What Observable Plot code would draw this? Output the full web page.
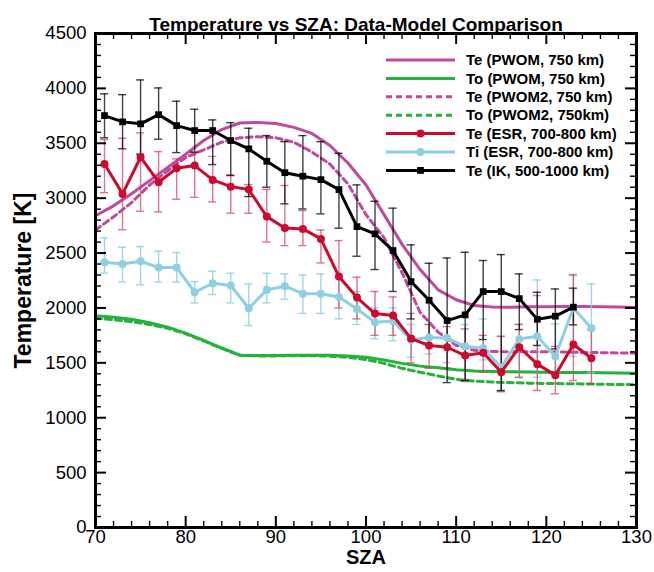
<!DOCTYPE html>
<html><head><meta charset="utf-8">
<script src="https://cdn.jsdelivr.net/npm/d3@7"></script>
<script src="https://cdn.jsdelivr.net/npm/@observablehq/plot@0.6"></script>
<style>body{margin:0;background:#fff}</style>
</head><body><div id="chart"></div>
<script>
// ---- data ----
const szaModel = [70,72,74,76,78,80,82,84,86,88,90,92,94,96,98,100,102,104,106,108,110,112,114,116,118,120,122,124,126,128,130];
const tePWOM  = [2840,2930,3040,3160,3280,3400,3525,3625,3685,3690,3680,3645,3590,3480,3320,3120,2850,2580,2350,2165,2075,2022,2008,2006,2010,2012,2014,2014,2012,2008,2004];
const toPWOM  = [1930,1915,1897,1865,1825,1770,1705,1635,1570,1566,1566,1568,1570,1568,1562,1550,1525,1495,1470,1455,1438,1425,1420,1418,1416,1415,1413,1412,1410,1408,1405];
const tePWOM2 = [2710,2830,2960,3120,3250,3370,3440,3510,3550,3560,3550,3510,3420,3310,3130,2850,2640,2320,1960,1780,1660,1615,1603,1600,1600,1600,1598,1595,1593,1590,1588];
const toPWOM2 = [1905,1893,1875,1850,1815,1765,1700,1632,1568,1563,1563,1565,1565,1560,1550,1530,1495,1450,1415,1380,1350,1333,1325,1320,1315,1312,1310,1308,1305,1303,1300];

const szaESR  = [71,73,75,77,79,81,83,85,87,89,91,93,95,97,99,101,103,105,107,109,111,113,115,117,119,121,123,125];
const teESR   = [3312,3039,3373,3145,3273,3297,3166,3105,3078,2832,2729,2720,2629,2286,2095,1949,1931,1721,1658,1642,1566,1591,1415,1642,1488,1388,1667,1542];
const teESRhi = [3534,3546,3595,3424,3358,3415,3380,3212,3124,3080,3115,2887,2710,2614,2280,2150,2100,1950,1850,1830,1809,1750,1742,1850,2113,1650,2304,1800];
const teESRlo = [3050,2712,2881,2875,2990,3008,2966,2863,2862,2600,2568,2568,2410,2000,1900,1750,1750,1500,1450,1454,1330,1415,1241,1369,1248,1218,1339,1309];
const tiESR   = [2416,2401,2425,2368,2368,2143,2225,2204,1997,2165,2198,2130,2130,2100,1990,1870,1880,1710,1730,1727,1648,1633,1460,1718,1742,1557,2000,1815];
const tiESRhi = [2638,2554,2559,2517,2504,2240,2335,2316,2219,2316,2310,2300,2310,2280,2150,2000,2000,1850,1850,1900,1849,1900,1740,1850,2255,1855,2295,2219];
const tiESRlo = [2317,2235,2211,2235,2235,2046,2122,2046,1840,2046,2080,1950,1950,1900,1850,1720,1700,1550,1580,1500,1354,1527,1233,1363,1369,1400,1557,1409];

const szaIK   = [71,73,75,77,79,81,83,85,87,89,91,93,95,97,99,101,103,105,107,109,111,113,115,117,119,121,123];
const teIK    = [3752,3695,3677,3761,3661,3616,3616,3525,3449,3336,3232,3200,3169,3078,2741,2675,2523,2240,2070,1885,1937,2149,2149,2085,1897,1925,2007];
const teIKhi  = [3950,3943,4077,4004,3883,3810,3713,3688,3637,3570,3515,3570,3515,3409,3121,2972,2909,2575,2407,2455,2507,2432,2486,2310,2143,2173,2180];
const teIKlo  = [3550,3450,3400,3537,3415,3420,3306,3206,3015,3100,2948,2902,2857,2726,2471,2350,2150,1900,1730,1320,1339,1712,1248,1803,1658,1627,1846];

const xDomain = [70,130];
const yDomain = [0,4500];
const xMajor = [70,80,90,100,110,120,130];
const yMajor = [0,500,1000,1500,2000,2500,3000,3500,4000,4500];
const xMinor = [72,74,76,78,82,84,86,88,92,94,96,98,102,104,106,108,112,114,116,118,122,124,126,128];
const yMinor = d3.range(0,4501,100).filter(v => v % 500 !== 0);

const legendItems = [
  {label:"Te (PWOM, 750 km)", color:"#c2489c", dash:null, marker:null},
  {label:"To (PWOM, 750 km)", color:"#22b33a", dash:null, marker:null},
  {label:"Te (PWOM2, 750 km)", color:"#c2489c", dash:"6,4", marker:null},
  {label:"To (PWOM2, 750km)", color:"#22b33a", dash:"6,4", marker:null},
  {label:"Te (ESR, 700-800 km)", color:"#cc0a2e", dash:null, marker:"circle"},
  {label:"Ti (ESR, 700-800 km)", color:"#8ecfe2", dash:null, marker:"circle"},
  {label:"Te (IK, 500-1000 km)", color:"#000000", dash:null, marker:"square"}
];

// ---- build tables ----
const model = szaModel.map((s,i) => ({sza:s, tePWOM:tePWOM[i], toPWOM:toPWOM[i], tePWOM2:tePWOM2[i], toPWOM2:toPWOM2[i]}));
const esr = szaESR.map((s,i) => ({sza:s, te:teESR[i], teHi:teESRhi[i], teLo:teESRlo[i], ti:tiESR[i], tiHi:tiESRhi[i], tiLo:tiESRlo[i]}));
const ik = szaIK.map((s,i) => ({sza:s, te:teIK[i], hi:teIKhi[i], lo:teIKlo[i]}));
const xTickRows = [...xMajor.map(v => ({v, len: 11, w: 2})), ...xMinor.map(v => ({v, len: 6, w: 1.4}))];
const yTickRows = [...yMajor.map(v => ({v, len: 11, w: 2})), ...yMinor.map(v => ({v, len: 6, w: 1.4}))];

const W = 654, Hh = 572, mt = 33, mb = 45, ml = 95, mr = 18;
const fw = W - ml - mr, fh = Hh - mt - mb;
const cap = 0.45;
const C = legendItems.map(d => d.color);

function errBars(data, x, lo, hi, color, op) {
  return [
    Plot.ruleX(data, {x, y1: lo, y2: hi, stroke: color, strokeOpacity: op, strokeWidth: 1.4}),
    Plot.ruleY(data, {y: hi, x1: d => d[x]-cap, x2: d => d[x]+cap, stroke: color, strokeOpacity: op, strokeWidth: 1.4}),
    Plot.ruleY(data, {y: lo, x1: d => d[x]-cap, x2: d => d[x]+cap, stroke: color, strokeOpacity: op, strokeWidth: 1.4})
  ];
}
// inward tick marks on all four sides (pixel lengths converted to data units)
const kx = (xDomain[1]-xDomain[0]) / fw, ky = (yDomain[1]-yDomain[0]) / fh;
function tickMarks() {
  return [
    Plot.ruleX(xTickRows, {x: "v", y1: () => yDomain[0], y2: d => yDomain[0] + d.len*ky, strokeWidth: "w", stroke: "black"}),
    Plot.ruleX(xTickRows, {x: "v", y1: d => yDomain[1] - d.len*ky, y2: () => yDomain[1], strokeWidth: "w", stroke: "black"}),
    Plot.ruleY(yTickRows, {y: "v", x1: () => xDomain[0], x2: d => xDomain[0] + d.len*kx, strokeWidth: "w", stroke: "black"}),
    Plot.ruleY(yTickRows, {y: "v", x1: d => xDomain[1] - d.len*kx, x2: () => xDomain[1], strokeWidth: "w", stroke: "black"})
  ];
}

const chart = Plot.plot({
  width: W, height: Hh,
  marginTop: mt, marginBottom: mb, marginLeft: ml, marginRight: mr,
  style: {fontFamily: "'Liberation Sans', Arial, Helvetica, sans-serif", fontSize: "18.5px", color: "#000", background: "#fff"},
  x: {domain: xDomain},
  y: {domain: yDomain},
  marks: [
    // model lines
    Plot.line(model, {x:"sza", y:"toPWOM2", stroke: C[3], strokeWidth: 3, strokeDasharray: "6,4"}),
    Plot.line(model, {x:"sza", y:"toPWOM", stroke: C[1], strokeWidth: 3}),
    Plot.line(model, {x:"sza", y:"tePWOM2", stroke: C[2], strokeWidth: 3, strokeDasharray: "6,4"}),
    Plot.line(model, {x:"sza", y:"tePWOM", stroke: C[0], strokeWidth: 3}),
    // error bars
    ...errBars(esr, "sza", "tiLo", "tiHi", "#8ecfe2", 0.85),
    ...errBars(esr, "sza", "teLo", "teHi", "#d23a58", 0.7),
    ...errBars(ik, "sza", "lo", "hi", "#000", 0.75),
    // data lines + markers
    Plot.line(esr, {x:"sza", y:"ti", stroke: C[5], strokeWidth: 3}),
    Plot.dot(esr, {x:"sza", y:"ti", fill: C[5], r: 4}),
    Plot.line(esr, {x:"sza", y:"te", stroke: C[4], strokeWidth: 3}),
    Plot.dot(esr, {x:"sza", y:"te", fill: C[4], r: 4}),
    Plot.line(ik, {x:"sza", y:"te", stroke: C[6], strokeWidth: 3}),
    Plot.dot(ik, {x:"sza", y:"te", fill: C[6], symbol: "square", r: 3.8}),
    ...tickMarks(),
    Plot.frame({stroke:"#000", strokeWidth: 3}),
    // axes (labels only)
    Plot.axisX({ticks: xMajor, tickSize: 0, tickPadding: 2, label: null, tickFormat: d => String(d)}),
    Plot.axisY({ticks: yMajor, tickSize: 0, tickPadding: 9, label: null, tickFormat: d => String(d)}),
    // titles
    Plot.text(["Temperature vs SZA: Data-Model Comparison"], {frameAnchor: "top", textAnchor: "middle", dy: -16, dx: -10, fontSize: 19, fontWeight: "bold"}),
    Plot.text(["SZA"], {frameAnchor: "bottom", textAnchor: "middle", dy: 36, fontSize: 20, fontWeight: "bold"}),
    Plot.text(["Temperature [K]"], {frameAnchor: "left", textAnchor: "middle", rotate: -90, dx: -72, fontSize: 23, fontWeight: "bold"})
  ]
});

const svg = d3.select(chart);
// legend inside the plot area (top-right)
const lg = svg.append("g").attr("font-family", "'Liberation Sans', Arial, sans-serif").attr("font-weight", "bold").attr("font-size", 15).attr("text-anchor", "start");
const lx0 = 386, lx1 = 455, tx = 466, ly0 = 60, dyRow = 18.4;
legendItems.forEach((it, i) => {
  const y = ly0 + i*dyRow;
  lg.append("line").attr("x1", lx0).attr("x2", lx1).attr("y1", y).attr("y2", y)
    .attr("stroke", it.color).attr("stroke-width", 3).attr("stroke-dasharray", it.dash);
  const mx = (lx0+lx1)/2;
  if (it.marker === "circle") lg.append("circle").attr("cx", mx).attr("cy", y).attr("r", 4).attr("fill", it.color);
  if (it.marker === "square") lg.append("rect").attr("x", mx-3.4).attr("y", y-3.4).attr("width", 6.8).attr("height", 6.8).attr("fill", it.color);
  lg.append("text").attr("x", tx).attr("y", y).attr("dy", "0.35em").attr("fill", "#000").attr("text-anchor", "start").text(it.label);
});

document.getElementById("chart").appendChild(chart);
</script>
</body></html>
